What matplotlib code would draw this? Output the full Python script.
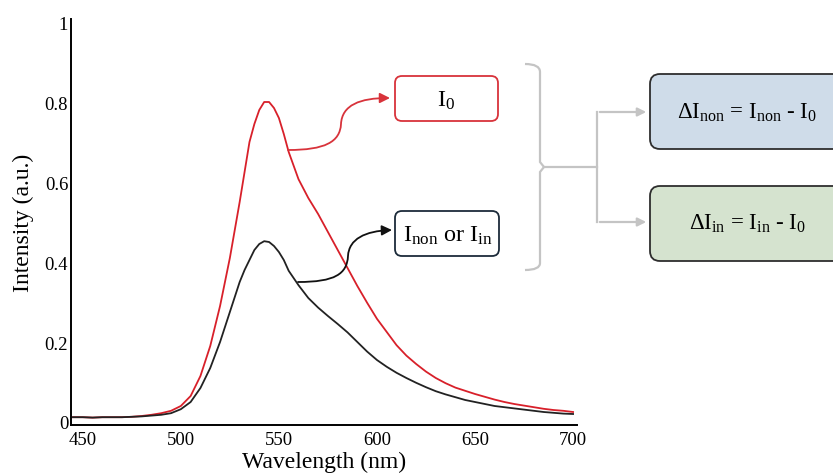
import matplotlib
matplotlib.use("Agg")
import matplotlib.pyplot as plt
from matplotlib.patches import FancyBboxPatch, FancyArrowPatch, PathPatch
from matplotlib.path import Path

plt.rcParams['font.family'] = ['Liberation Serif', 'DejaVu Serif']
plt.rcParams['mathtext.fontset'] = 'custom'
plt.rcParams['mathtext.rm'] = 'Liberation Serif'
plt.rcParams['mathtext.it'] = 'Liberation Serif:italic'

# spectra (5 nm steps, 2.5 nm around the peak)
wavelength = [445, 450, 455, 460, 465, 470, 475, 480, 485, 490, 495, 500, 505, 510,
              515, 520, 525, 530, 532.5, 535, 537.5, 540, 542.5, 545, 547.5, 550, 552.5,
              555, 560, 565, 570, 575, 580, 585, 590, 595, 600, 605, 610, 615, 620, 625,
              630, 635, 640, 645, 650, 655, 660, 665, 670, 675, 680, 685, 690, 695, 700]
i0 = [0.012, 0.012, 0.011, 0.012, 0.012, 0.012, 0.013, 0.015, 0.018, 0.022, 0.028, 0.040,
      0.065, 0.115, 0.190, 0.290, 0.410, 0.550, 0.625, 0.700, 0.745, 0.780, 0.800, 0.800,
      0.785, 0.760, 0.720, 0.675, 0.607, 0.560, 0.520, 0.475, 0.430, 0.385, 0.340, 0.298,
      0.258, 0.225, 0.192, 0.166, 0.145, 0.126, 0.110, 0.097, 0.086, 0.078, 0.070, 0.063,
      0.056, 0.050, 0.045, 0.041, 0.037, 0.033, 0.030, 0.028, 0.025]
i_non = [0.012, 0.012, 0.011, 0.012, 0.012, 0.012, 0.013, 0.014, 0.016, 0.018, 0.022, 0.032,
         0.050, 0.085, 0.135, 0.200, 0.275, 0.350, 0.380, 0.405, 0.430, 0.445, 0.452, 0.450,
         0.440, 0.425, 0.405, 0.378, 0.342, 0.310, 0.286, 0.265, 0.245, 0.224, 0.200, 0.176,
         0.155, 0.138, 0.123, 0.110, 0.098, 0.087, 0.077, 0.069, 0.062, 0.055, 0.050, 0.045,
         0.040, 0.037, 0.034, 0.031, 0.028, 0.025, 0.023, 0.021, 0.020]
xticks = [450, 500, 550, 600, 650, 700]
yticks = [0, 0.2, 0.4, 0.6, 0.8, 1]
yticklabels = ['0', '0.2', '0.4', '0.6', '0.8', '1']

W, H = 833, 477
fig = plt.figure(figsize=(W / 100, H / 100), dpi=100)
ax = fig.add_axes([71 / W, 1 - 426 / H, (577 - 71) / W, (426 - 20) / H])

ax.plot(wavelength, i0, color='#d8202a', lw=1.3)
ax.plot(wavelength, i_non, color='#222222', lw=1.3)

ax.set_xlim(444, 702)
ax.set_ylim(-0.0075, 1.0075)
ax.set_xticks(xticks)
ax.set_yticks(yticks)
ax.set_yticklabels(yticklabels)
ax.tick_params(length=0, labelsize=13.5, pad=2)
ax.tick_params(axis='x', pad=4)
for s in ['top', 'right']:
    ax.spines[s].set_visible(False)
for s in ['left', 'bottom']:
    ax.spines[s].set_linewidth(1.4)
ax.set_xlabel('Wavelength (nm)', fontsize=17, labelpad=2)
ax.set_ylabel('Intensity (a.u.)', fontsize=17, labelpad=8)

# overlay for the diagram, in pixel coordinates
ov = fig.add_axes([0, 0, 1, 1])
ov.set_xlim(0, W)
ov.set_ylim(H, 0)
ov.axis('off')


def rbox(x0, y0, x1, y1, ec, fc, r=7):
    ov.add_patch(FancyBboxPatch((x0, y0), x1 - x0, y1 - y0,
                                boxstyle='round,pad=0,rounding_size=%g' % r,
                                ec=ec, fc=fc, lw=1.3, clip_on=False))


rbox(395, 77, 498, 122, '#d8333b', 'white')
ov.text(446, 101, r'$\mathrm{I}_0$', fontsize=17.5, ha='center', va='center')

rbox(395, 212, 499, 257, '#1c2b3a', 'white')
ov.text(448, 236, r'$\mathrm{I}_{\mathrm{non}}$ or $\mathrm{I}_{\mathrm{in}}$', fontsize=17.5,
        ha='center', va='center')

rbox(650, 75, 845, 150, '#2e2e2e', '#cfdce9', r=10)
ov.text(747, 113, r'$\Delta\mathrm{I}_{\mathrm{non}}$ = $\mathrm{I}_{\mathrm{non}}$ - $\mathrm{I}_0$',
        fontsize=16.5, ha='center', va='center')

rbox(650, 187, 845, 262, '#2e2e2e', '#d5e3cf', r=10)
ov.text(747, 224, r'$\Delta\mathrm{I}_{\mathrm{in}}$ = $\mathrm{I}_{\mathrm{in}}$ - $\mathrm{I}_0$',
        fontsize=16.5, ha='center', va='center')

# curved arrows from the curves to the labels
C4 = Path.CURVE4
red_path = Path([(288, 151), (325, 151), (340, 143), (341, 125),
                 (342, 106), (360, 99), (390, 99)],
                [Path.MOVETO, C4, C4, C4, C4, C4, C4])
ov.add_patch(FancyArrowPatch(path=red_path, arrowstyle='-|>,head_length=0.6,head_width=0.3',
                             mutation_scale=10, color='#d8333b', lw=1.3))
blk_path = Path([(298, 283), (335, 283), (347, 275), (348, 257),
                 (349, 240), (365, 232), (392, 231)],
                [Path.MOVETO, C4, C4, C4, C4, C4, C4])
ov.add_patch(FancyArrowPatch(path=blk_path, arrowstyle='-|>,head_length=0.6,head_width=0.3',
                             mutation_scale=10, color='#111111', lw=1.3))

# grey bracket and branching arrows
gray = '#c4c4c4'
C3 = Path.CURVE3
br = Path([(525, 65), (540, 65), (540, 73), (540, 163), (544, 168),
           (540, 173), (540, 264), (540, 271), (525, 271)],
          [Path.MOVETO, C3, C3, Path.LINETO, Path.LINETO,
           Path.LINETO, Path.LINETO, C3, C3])
ov.add_patch(PathPatch(br, fc='none', ec=gray, lw=1.6))
ov.plot([544, 597], [168, 168], color=gray, lw=1.6)
ov.plot([597, 597], [113, 223], color=gray, lw=1.6)
for yy in [113, 223]:
    ov.add_patch(FancyArrowPatch((597, yy), (649, yy),
                                 arrowstyle='-|>,head_length=0.5,head_width=0.25',
                                 mutation_scale=10, color=gray, lw=1.6))

fig.savefig('out.png', dpi=100)
